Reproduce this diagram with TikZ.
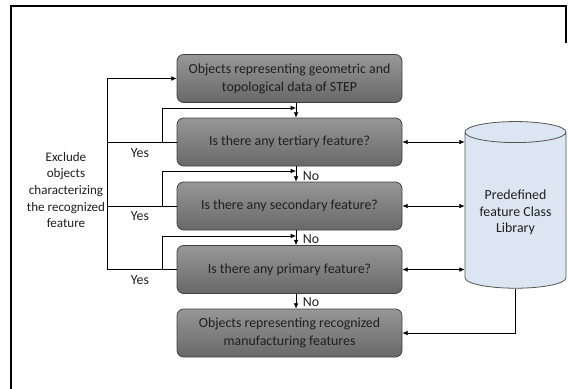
\documentclass[tikz,border=0pt]{standalone}
\usepackage{fontspec}
\setmainfont{Carlito}
\usetikzlibrary{shapes.geometric,arrows.meta}

\definecolor{boxtop}{HTML}{979797}
\definecolor{boxbot}{HTML}{686868}
\definecolor{boxline}{HTML}{404040}
\definecolor{libfill}{HTML}{DCE6F2}
\definecolor{libline}{HTML}{555555}

\begin{document}
\begin{tikzpicture}[x=0.75pt,y=-0.75pt]
  \tikzstyle{every node}=[font=\fontsize{10.4}{12.5}\selectfont, text=black!88]
  \tikzstyle{stage}=[rounded corners=5pt, draw=boxline, line width=0.6pt,
    top color=boxtop, bottom color=boxbot, align=center,
    font=\fontsize{10.4}{13.5}\selectfont,
    minimum width=168.75pt, minimum height=36pt]
  \tikzstyle{library}=[cylinder, shape border rotate=90, aspect=0.26,
    draw=libline, fill=libfill, line width=0.6pt, align=center,
    minimum width=75.75pt, minimum height=125pt]
  \tikzstyle{link}=[line width=0.5pt, -{Latex[length=4pt,width=3.5pt]}]
  \tikzstyle{dlink}=[line width=0.5pt, {Latex[length=4pt,width=3.5pt]}-{Latex[length=4pt,width=3.5pt]}]
  \tikzstyle{lbl}=[inner sep=1pt]

  \useasboundingbox (0,0) rectangle (568,389);
  \draw[line width=1.3pt] (11,389) -- (11,6) -- (566,6) -- (566,43);

  \node[stage] (b1) at (289.5,78.5) {Objects representing geometric and\\topological data of STEP};
  \node[stage] (b2) at (289.5,142) {Is there any tertiary feature?};
  \node[stage] (b3) at (289.5,206) {Is there any secondary feature?};
  \node[stage] (b4) at (289.5,269.5) {Is there any primary feature?};
  \node[stage] (b5) at (289.5,333) {Objects representing recognized\\manufacturing features};

  \node[library] (lib) at (515.5,212.5) {Predefined\\feature Class\\Library};

  \node[align=center, font=\fontsize{9.8}{12.4}\selectfont] (excl) at (66,190) {Exclude\\objects\\characterizing\\the recognized\\feature};

  \coordinate (ol) at (107,0);
  \coordinate (il) at (162,0);
  \coordinate (j2) at (296,108);
  \coordinate (j3) at (296,171);
  \coordinate (j4) at (296,236);
  \coordinate (j5) at (296,300);

  % yes branches
  \draw[link] (b4.west) -- (b4.west -| ol) |- (b1.west);
  \draw (b2.west) -- (b2.west -| ol);
  \draw (b3.west) -- (b3.west -| ol);
  \foreach \b/\j in {b2/j2,b3/j3,b4/j4}
    \draw[link] (\b.west -| il) |- (\j);

  % no branches
  \draw[link] (b1.south -| j2) -- (b2.north -| j2);
  \draw[link] (b2.south -| j3) -- (b3.north -| j3);
  \draw[link] (b3.south -| j4) -- (b4.north -| j4);
  \draw[link] (b4.south -| j5) -- (b5.north -| j5);

  \foreach \b in {b2,b3,b4}
    \draw[dlink] (\b.east) -- (\b.east -| lib.west);
  \draw[link] (lib.south) |- (b5.east);

  \node[lbl] (yes2) at (140,153) {Yes};
  \node[lbl] (yes3) at (140,216) {Yes};
  \node[lbl] (yes4) at (140,280) {Yes};
  \node[lbl] (no3) at (311,176) {No};
  \node[lbl] (no4) at (311,239) {No};
  \node[lbl] (no5) at (311,302) {No};
\end{tikzpicture}
\end{document}
